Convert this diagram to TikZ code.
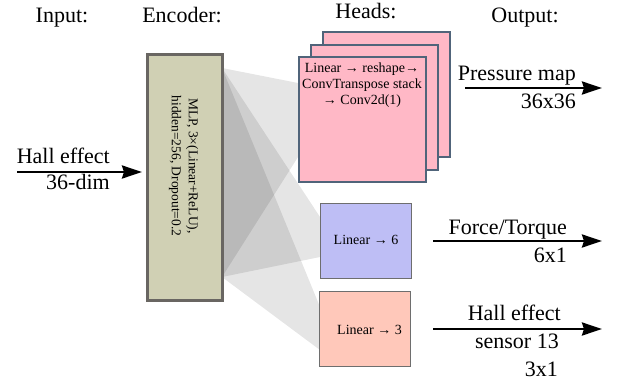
\documentclass[tikz,border=0pt]{standalone}
\usepackage{fontspec}
\setmainfont{Liberation Serif}
\usetikzlibrary{arrows.meta}
\definecolor{encfill}{RGB}{208,208,180}
\definecolor{encdraw}{RGB}{105,102,98}
\definecolor{pinkfill}{RGB}{255,184,198}
\definecolor{pinkdraw}{RGB}{80,100,122}
\definecolor{bluefill}{RGB}{190,190,245}
\definecolor{salmonfill}{RGB}{255,200,186}
\definecolor{headdraw}{RGB}{110,110,110}
\begin{document}
\begin{tikzpicture}[x=1pt,y=-1pt,
  bigtext/.style={font=\fontsize{22}{26}\selectfont, inner sep=0pt},
  boxtext/.style={font=\fontsize{14}{16}\selectfont, align=center, inner sep=0pt},
  proj/.style={fill=black, fill opacity=0.1, draw=none},
  flow/.style={line width=2.6pt, -{Stealth[length=20pt,width=13pt,inset=2pt]}},
  headbox/.style={draw=headdraw, line width=1.3pt, minimum width=91pt, minimum height=75pt, inner sep=0pt, anchor=north west},
  pressbox/.style={draw=pinkdraw, fill=pinkfill, line width=2.4pt, minimum width=127pt, minimum height=125pt, inner sep=0pt, anchor=north west},
  encbox/.style={draw=encdraw, fill=encfill, line width=2.6pt, minimum width=75pt, minimum height=246pt, inner sep=0pt, anchor=north west}]
\useasboundingbox (0,0) rectangle (619,388);

% headers
\node[bigtext, anchor=base] (hin) at (62,22) {Input:};
\node[bigtext, anchor=base] (henc) at (182,22) {Encoder:};
\node[bigtext, anchor=base] (hheads) at (366,19) {Heads:};
\node[bigtext, anchor=base] (hout) at (525,23) {Output:};

% projection fans (behind boxes)
\coordinate (etop) at (222,68);
\coordinate (ebot) at (222,277);
\coordinate (pt1) at (298,83);
\coordinate (pt2) at (298,157);
\coordinate (ft1) at (320,217);
\coordinate (ft2) at (320,257);
\coordinate (ht1) at (320,307);
\coordinate (ht2) at (320,350);
\fill[proj] (etop) -- (pt1) -- (pt2) -- (ebot) -- cycle;
\fill[proj] (etop) -- (ft1) -- (ft2) -- (ebot) -- cycle;
\fill[proj] (etop) -- (ht1) -- (ht2) -- (ebot) -- cycle;

% encoder
\node[encbox] (enc) at (146,53) {};
\node[font=\fontsize{13.5}{17}\selectfont, align=center, inner sep=0pt, rotate=-90] (enctext) at (183.5,166) {MLP, 3×(Linear+ReLU),\\hidden=256, Dropout=0.2};

% pressure head stack
\node[pressbox] (pback) at (322,31) {};
\node[pressbox] (pmid) at (310,43.5) {};
\node[pressbox] (pfront) at (298,56) {};
\node[boxtext, anchor=north] (ptext) at (362,63) {Linear → reshape→\\ConvTranspose stack\\→ Conv2d(1)};

% force head
\node[headbox, fill=bluefill] (fhead) at (320,203) {};
\node[boxtext] (ftext) at (366,240) {Linear → 6};

% hall head
\node[headbox, fill=salmonfill] (hhead) at (319,291) {};
\node[boxtext] (htext) at (369.5,330) {Linear → 3};

% input arrow
\coordinate (in1) at (17,172);
\coordinate (in2) at (142,172);
\draw[flow] (in1) -- (in2);
\node[bigtext, anchor=base east] (inl1) at (110,163) {Hall effect};
\node[bigtext, anchor=base east] (inl2) at (110,189) {36-dim};

% pressure output
\coordinate (po1) at (465,88);
\coordinate (po2) at (602,88);
\draw[flow] (po1) -- (po2);
\node[bigtext, anchor=base east] (pol1) at (576,80) {Pressure map};
\node[bigtext, anchor=base east] (pol2) at (576,108) {36x36};

% force output
\coordinate (fo1) at (433,241);
\coordinate (fo2) at (602,241);
\draw[flow] (fo1) -- (fo2);
\node[bigtext, anchor=base east] (fol1) at (567,234) {Force/Torque};
\node[bigtext, anchor=base east] (fol2) at (567,262) {6x1};

% hall output
\coordinate (ho1) at (433,329);
\coordinate (ho2) at (602,329);
\draw[flow] (ho1) -- (ho2);
\node[bigtext, anchor=base east] (hol1) at (561,320) {Hall effect};
\node[bigtext, anchor=base east] (hol2) at (559,348) {sensor 13};
\node[bigtext, anchor=base east] (hol3) at (558,376) {3x1};
\end{tikzpicture}
\end{document}
